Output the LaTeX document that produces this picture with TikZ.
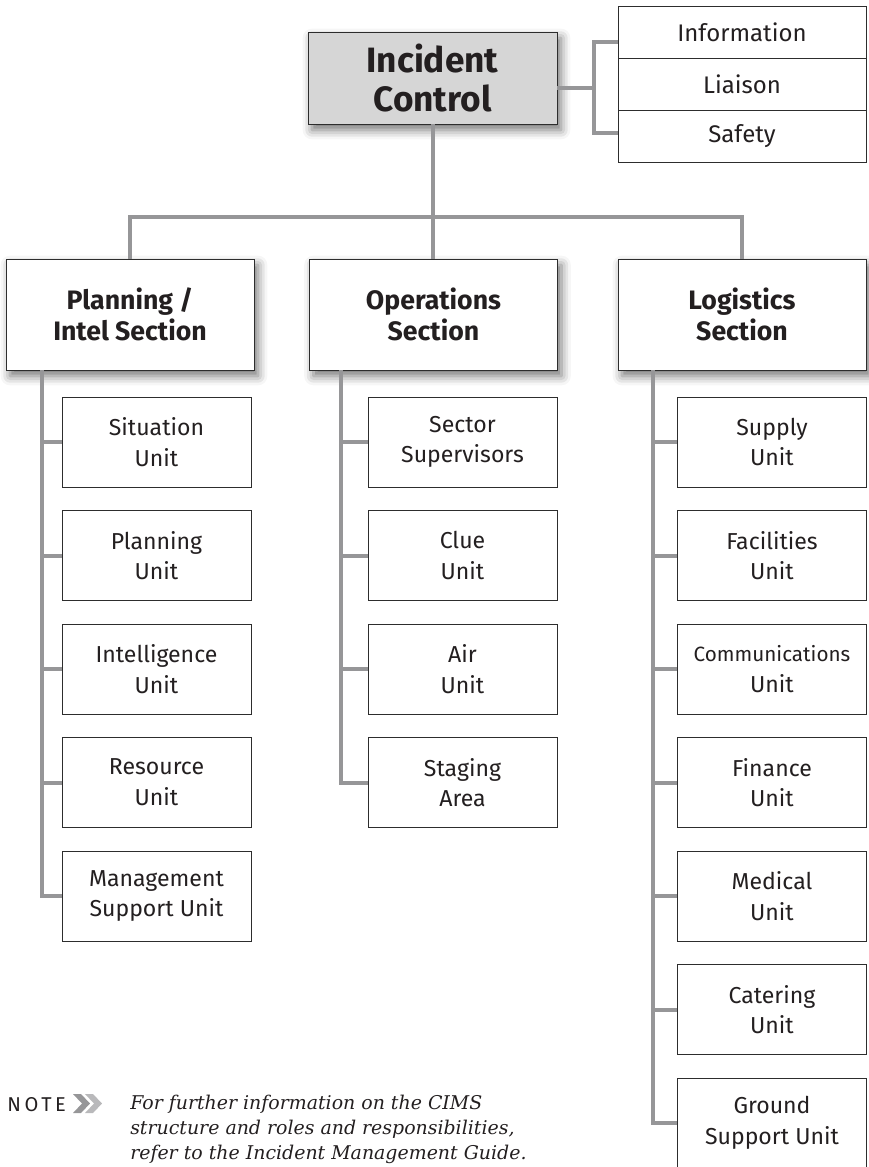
\documentclass[tikz,border=0pt]{standalone}
\usepackage{fontspec}
\setmainfont{Fira Sans}
\newfontfamily\notefont{DejaVu Serif}
\usetikzlibrary{shadows.blur}

\definecolor{linkgray}{RGB}{150,150,152}
\definecolor{chevgray}{RGB}{185,185,187}
\definecolor{boxline}{RGB}{45,45,45}
\definecolor{icfill}{RGB}{214,214,214}
\definecolor{inkgray}{RGB}{35,31,32}

\tikzset{
  box/.style={draw=boxline, line width=0.6pt, fill=white, align=center, text=inkgray, inner sep=0pt},
  unit/.style={box, minimum width=141.75pt, minimum height=67.5pt, font=\fontsize{17.3}{23}\selectfont},
  sect/.style={box, minimum width=186pt, minimum height=83.25pt, font=\fontsize{20}{23.5}\selectfont\bfseries,
    blur shadow={shadow xshift=3pt, shadow yshift=-4.5pt, shadow blur radius=7pt, shadow opacity=55}},
  side/.style={box, minimum width=186pt, minimum height=39pt, font=\fontsize{18}{20}\selectfont},
  link/.style={draw=linkgray, line width=3pt},
}

\begin{document}
\begin{tikzpicture}[x=0.75pt, y=-0.75pt]
\useasboundingbox (0,0) rectangle (868,1167);

% top
\node[sect, fill=icfill, minimum width=186.75pt, minimum height=69pt,
  font=\fontsize{26.4}{29}\selectfont\bfseries] (ic) at (432.5,78) {Incident\\Control};
\node[side] (info) at (742,32) {Information};
\node[side] (liaison) at (742,84) {Liaison};
\node[side] (safety) at (742,136) {Safety};
\coordinate (brk) at (594,88);
\draw[link] ([yshift=-7.5pt]info.west) -| (brk) |- ([yshift=2.25pt]safety.west);
\draw[link] (ic.east |- brk) -- (brk);

% sections
\node[sect] (plan) at (130,314.5) {Planning /\\Intel Section};
\node[sect] (ops) at (433.5,314.5) {Operations\\Section};
\node[sect] (logi) at (742,314.5) {Logistics\\Section};
\coordinate (bar) at (432.5,217);
\draw[link] (plan.north) |- (bar) -| (logi.north);
\draw[link] (ic.south) -- (ic.south |- ops.north);

% units
\foreach \txt [count=\i] in {{Situation\\Unit},{Planning\\Unit},{Intelligence\\Unit},
    {Resource\\Unit},{Management\\Support Unit}}
  \node[unit] (pl\i) at (156.5,{442+113.5*(\i-1)}) {\txt};
\foreach \txt [count=\i] in {{Sector\\Supervisors},{Clue\\Unit},{Air\\Unit},{Staging\\Area}}
  \node[unit] (op\i) at (462.5,{442+113.5*(\i-1)}) {\txt};
\foreach \txt [count=\i] in {{Supply\\Unit},{Facilities\\Unit},
    {{\fontsize{15.5}{20}\selectfont Communications}\\Unit},{Finance\\Unit},
    {Medical\\Unit},{Catering\\Unit},{Ground\\Support Unit}}
  \node[unit] (lg\i) at (772,{442+113.5*(\i-1)}) {\txt};

% spines
\coordinate (plspine) at ([xshift=27pt]plan.south west);
\coordinate (opspine) at ([xshift=24pt]ops.south west);
\coordinate (lgspine) at ([xshift=26.25pt]logi.south west);
\draw[link] (plspine) |- (pl5.west);
\draw[link] (opspine) |- (op4.west);
\draw[link] (lgspine) |- (lg7.west);
\foreach \i in {1,...,4}
  \draw[link] (plspine |- pl\i.west) -- (pl\i.west);
\foreach \i in {1,...,3}
  \draw[link] (opspine |- op\i.west) -- (op\i.west);
\foreach \i in {1,...,6}
  \draw[link] (lgspine |- lg\i.west) -- (lg\i.west);

% note
\node[anchor=base west, inner sep=0pt, text=inkgray,
  font=\fontsize{15}{18}\selectfont\addfontfeatures{LetterSpace=18}] (notelbl) at (7,1111) {NOTE};
\fill[linkgray] (73,1094) -- (81,1094) -- (90,1103.5) -- (81,1113) -- (73,1113) -- (82,1103.5) -- cycle;
\fill[chevgray] (85,1094) -- (93,1094) -- (102,1103.5) -- (93,1113) -- (85,1113) -- (94,1103.5) -- cycle;
\node[anchor=north west, inner sep=0pt, align=left, text=inkgray,
  font=\notefont\itshape\fontsize{14.2}{18.75}\selectfont] (notetxt) at (130,1095)
  {For further information on the CIMS\\structure and roles and responsibilities,\\refer to the Incident Management Guide.};
\end{tikzpicture}
\end{document}
